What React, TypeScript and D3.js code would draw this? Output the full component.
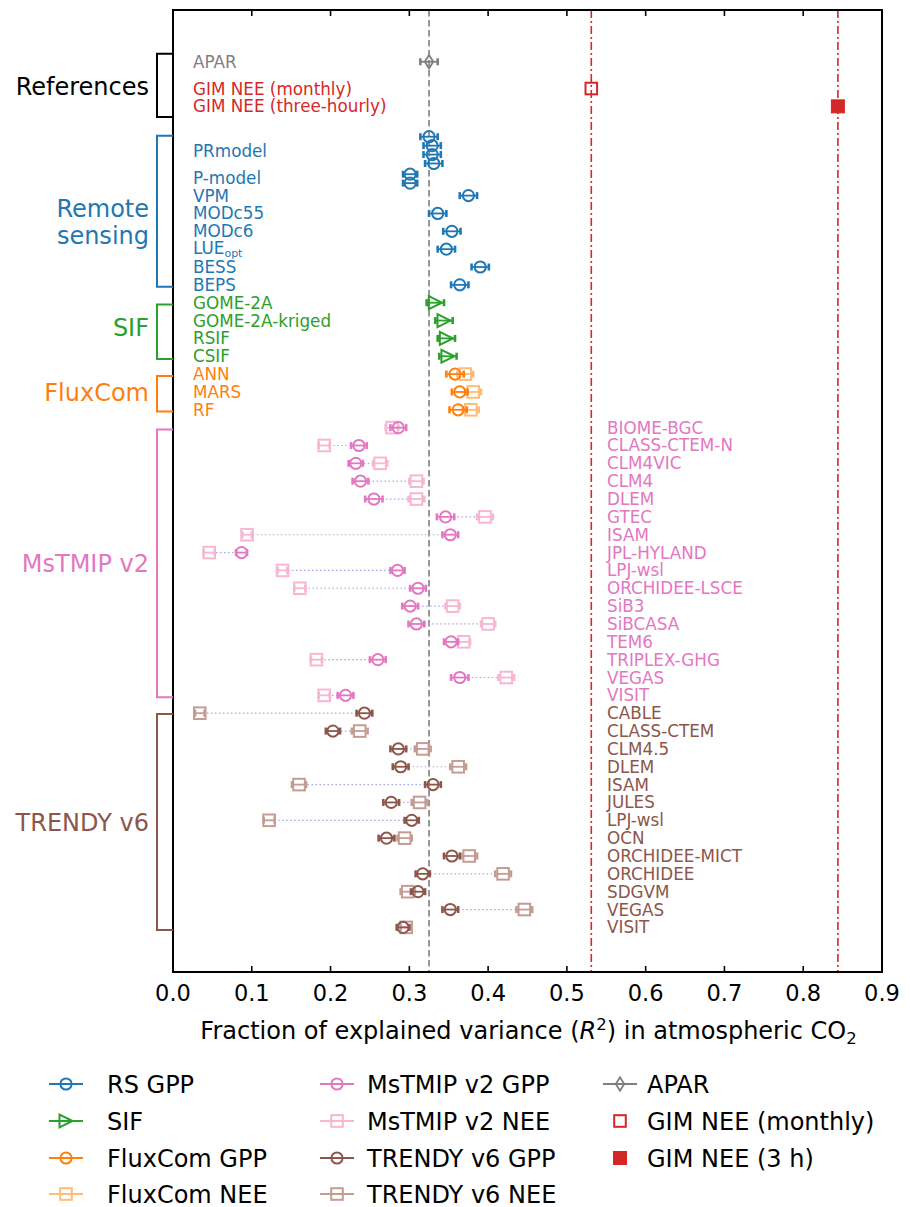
import React from 'react';
import * as d3 from 'd3';

const FONT = 'DejaVu Sans, Verdana, sans-serif';

// colours
const C_RS = '#1f77b4';
const C_SIF = '#2ca02c';
const C_FLUX = '#ff7f0e';
const C_FLUX_NEE = '#ffbb78';
const C_MS = '#e377c2';
const C_MS_NEE = '#f7b6d2';
const C_TR = '#8c564b';
const C_TR_NEE = '#c49c94';
const C_GRAY = '#7f7f7f';
const C_RED = '#d62728';
const C_LINK = '#a8a8e4';

// x axis
const xTicks = [0, 0.1, 0.2, 0.3, 0.4, 0.5, 0.6, 0.7, 0.8, 0.9];

// references
const refLabels = ['APAR', 'GIM NEE (monthly)', 'GIM NEE (three-hourly)'];
const refColors = [C_GRAY, C_RED, C_RED];
const refRows = [0, 1.5, 2.5];
const aparValue = 0.325;
const aparErr = 0.011;
const gimMonthly = 0.531;
const gimThreeHourly = 0.844;

// remote sensing GPP
const rsLabels = ['PRmodel', 'P-model', 'VPM', 'MODc55', 'MODc6', 'LUE_opt', 'BESS', 'BEPS'];
const rsLabelRows = [5, 6.5, 7.5, 8.5, 9.5, 10.5, 11.5, 12.5];
const rsRows = [4.2, 4.7, 5.2, 5.7, 6.3, 6.8, 7.5, 8.5, 9.5, 10.5, 11.5, 12.5];
const rsGpp = [0.325, 0.329, 0.329, 0.331, 0.301, 0.301, 0.375, 0.336, 0.354, 0.347, 0.390, 0.364];
const rsErr = [0.011, 0.011, 0.011, 0.011, 0.009, 0.009, 0.011, 0.011, 0.011, 0.011, 0.011, 0.011];

// SIF
const sifLabels = ['GOME-2A', 'GOME-2A-kriged', 'RSIF', 'CSIF'];
const sifRows = [13.5, 14.5, 15.5, 16.5];
const sifValues = [0.333, 0.344, 0.347, 0.349];
const sifErr = [0.011, 0.011, 0.011, 0.011];

// FluxCom
const fluxLabels = ['ANN', 'MARS', 'RF'];
const fluxRows = [17.5, 18.5, 19.5];
const fluxGpp = [0.358, 0.364, 0.362];
const fluxGppErr = [0.011, 0.01, 0.011];
const fluxNee = [0.371, 0.381, 0.378];
const fluxNeeErr = [0.01, 0.01, 0.01];

// MsTMIP v2
const msLabels = ['BIOME-BGC', 'CLASS-CTEM-N', 'CLM4VIC', 'CLM4', 'DLEM', 'GTEC', 'ISAM', 'JPL-HYLAND',
  'LPJ-wsl', 'ORCHIDEE-LSCE', 'SiB3', 'SiBCASA', 'TEM6', 'TRIPLEX-GHG', 'VEGAS', 'VISIT'];
const msGpp = [0.286, 0.236, 0.232, 0.238, 0.255, 0.346, 0.352, 0.087, 0.285, 0.311, 0.301, 0.309, 0.353, 0.260, 0.364, 0.219];
const msGppErr = [0.01, 0.01, 0.009, 0.01, 0.011, 0.011, 0.01, 0.007, 0.009, 0.01, 0.01, 0.01, 0.009, 0.01, 0.011, 0.01];
const msNee = [0.278, 0.192, 0.263, 0.309, 0.309, 0.396, 0.094, 0.046, 0.139, 0.161, 0.355, 0.400, 0.369, 0.182, 0.423, 0.192];
const msNeeErr = [0.008, 0.007, 0.009, 0.009, 0.01, 0.01, 0.006, 0.007, 0.006, 0.007, 0.009, 0.009, 0.008, 0.007, 0.01, 0.007];
const msStart = 20.5;

// TRENDY v6
const trLabels = ['CABLE', 'CLASS-CTEM', 'CLM4.5', 'DLEM', 'ISAM', 'JULES', 'LPJ-wsl', 'OCN',
  'ORCHIDEE-MICT', 'ORCHIDEE', 'SDGVM', 'VEGAS', 'VISIT'];
const trGpp = [0.243, 0.203, 0.286, 0.289, 0.330, 0.277, 0.303, 0.271, 0.354, 0.317, 0.311, 0.352, 0.292];
const trGppErr = [0.01, 0.009, 0.01, 0.01, 0.01, 0.01, 0.009, 0.01, 0.01, 0.009, 0.009, 0.01, 0.008];
const trNee = [0.034, 0.237, 0.317, 0.362, 0.160, 0.313, 0.122, 0.294, 0.376, 0.419, 0.298, 0.446, 0.296];
const trNeeErr = [0.006, 0.01, 0.01, 0.01, 0.009, 0.01, 0.007, 0.009, 0.01, 0.01, 0.009, 0.01, 0.007];
const trStart = 36.5;

// group brackets on the left
const groupNames = [['References'], ['Remote', 'sensing'], ['SIF'], ['FluxCom'], ['MsTMIP v2'], ['TRENDY v6']];
const groupColors = ['#000000', C_RS, C_SIF, C_FLUX, C_MS, C_TR];
const bracketStart = [-0.45, 4.15, 13.6, 17.6, 20.6, 36.55];
const bracketEnd = [3.1, 12.6, 16.65, 19.6, 35.6, 48.65];
const groupLabelRows = [1.4, 9.0, 14.9, 18.55, 28.1, 42.6];

// legend
const legendLabels = [
  ['RS GPP', 'SIF', 'FluxCom GPP', 'FluxCom NEE'],
  ['MsTMIP v2 GPP', 'MsTMIP v2 NEE', 'TRENDY v6 GPP', 'TRENDY v6 NEE'],
  ['APAR', 'GIM NEE (monthly)', 'GIM NEE (3 h)'],
];
const legendKinds = [
  ['circle', 'triangle', 'circle', 'square'],
  ['circle', 'square', 'circle', 'square'],
  ['diamond', 'square', 'filled'],
];
const legendColors = [
  [C_RS, C_SIF, C_FLUX, C_FLUX_NEE],
  [C_MS, C_MS_NEE, C_TR, C_TR_NEE],
  [C_GRAY, C_RED, C_RED],
];

const W = 910;
const H = 1207;
const left = 173;
const right = 882;
const top = 10;
const bottom = 972;

const x = d3.scaleLinear().domain([0, 0.9]).range([left, right]);
const y = d3.scaleLinear().domain([-2.9, 51]).range([top, bottom]);

function Marker({ kind, cx, cy, color }: { kind: string; cx: number; cy: number; color: string }) {
  const sw = 2;
  if (kind === 'circle') return <circle cx={cx} cy={cy} r={5.6} fill="none" stroke={color} strokeWidth={sw} />;
  if (kind === 'square') return <rect x={cx - 5.8} y={cy - 5.8} width={11.6} height={11.6} fill="none" stroke={color} strokeWidth={sw} />;
  if (kind === 'filled') return <rect x={cx - 6.5} y={cy - 6.5} width={13} height={13} fill={color} stroke={color} strokeWidth={1} />;
  if (kind === 'triangle') {
    const p = `M${cx + 6.5},${cy} L${cx - 6.5},${cy - 6.5} L${cx - 6.5},${cy + 6.5} Z`;
    return <path d={p} fill="none" stroke={color} strokeWidth={sw} strokeLinejoin="miter" />;
  }
  if (kind === 'diamond') {
    const p = `M${cx},${cy - 6.8} L${cx + 4.2},${cy} L${cx},${cy + 6.8} L${cx - 4.2},${cy} Z`;
    return <path d={p} fill="none" stroke={color} strokeWidth={1.8} />;
  }
  return null;
}

function ErrPoint({ v, e, row, kind, color }: { v: number; e: number; row: number; kind: string; color: string }) {
  const cy = y(row);
  const x0 = x(v - e);
  const x1 = x(v + e);
  return (
    <g>
      <line x1={x0} x2={x1} y1={cy} y2={cy} stroke={color} strokeWidth={1.8} />
      <line x1={x0} x2={x0} y1={cy - 3.5} y2={cy + 3.5} stroke={color} strokeWidth={2.6} />
      <line x1={x1} x2={x1} y1={cy - 3.5} y2={cy + 3.5} stroke={color} strokeWidth={2.6} />
      <Marker kind={kind} cx={x(v)} cy={cy} color={color} />
    </g>
  );
}

function RowLabel({ text, row, color, tx }: { text: string; row: number; color: string; tx: number }) {
  const cy = y(row);
  if (text.endsWith('_opt')) {
    return (
      <text x={tx} y={cy + 5} fontSize={16.8} fill={color} fontFamily={FONT}>
        {text.replace('_opt', '')}
        <tspan fontSize={11} dy={3}>opt</tspan>
      </text>
    );
  }
  return <text x={tx} y={cy + 6} fontSize={16.8} fill={color} fontFamily={FONT}>{text}</text>;
}

export default function App() {
  const upperLabelX = 193;
  const lowerLabelX = 607;
  const legendCols = [66, 337, 620];
  const legendText = [107, 367, 647];
  const legendRows = [1084, 1121, 1158, 1194];

  return (
    <svg width={W} height={H} style={{ position: 'absolute', left: 0, top: 0, background: '#fff' }}
      fontFamily={FONT}>
      <rect width={W} height={H} fill="#fff" />

      {/* reference lines */}
      <line x1={x(aparValue)} x2={x(aparValue)} y1={top} y2={bottom} stroke={C_GRAY} strokeWidth={1.6} strokeDasharray="6.5,3.5" />
      <line x1={x(gimMonthly)} x2={x(gimMonthly)} y1={top} y2={bottom} stroke={C_RED} strokeWidth={1.6} strokeDasharray="8,3,2,3" />
      <line x1={x(gimThreeHourly)} x2={x(gimThreeHourly)} y1={top} y2={bottom} stroke={C_RED} strokeWidth={1.6} strokeDasharray="8,3,2,3" />

      {/* dotted links between GPP and NEE */}
      {msLabels.map((_, i) => (
        <line key={'ml' + i} x1={x(msGpp[i])} x2={x(msNee[i])} y1={y(msStart + i)} y2={y(msStart + i)}
          stroke={C_LINK} strokeWidth={1.2} strokeDasharray="1.5,2.5" />
      ))}
      {trLabels.map((_, i) => (
        <line key={'tl' + i} x1={x(trGpp[i])} x2={x(trNee[i])} y1={y(trStart + i)} y2={y(trStart + i)}
          stroke={C_LINK} strokeWidth={1.2} strokeDasharray="1.5,2.5" />
      ))}

      {/* references */}
      <ErrPoint v={aparValue} e={aparErr} row={refRows[0]} kind="diamond" color={C_GRAY} />
      <Marker kind="square" cx={x(gimMonthly)} cy={y(refRows[1])} color={C_RED} />
      <Marker kind="filled" cx={x(gimThreeHourly)} cy={y(refRows[2])} color={C_RED} />
      {refLabels.map((t, i) => (
        <RowLabel key={t} text={t} row={refRows[i]} color={refColors[i]} tx={upperLabelX} />
      ))}

      {/* remote sensing */}
      {rsGpp.map((v, i) => (
        <ErrPoint key={'rs' + i} v={v} e={rsErr[i]} row={rsRows[i]} kind="circle" color={C_RS} />
      ))}
      {rsLabels.map((t, i) => (
        <RowLabel key={t} text={t} row={rsLabelRows[i]} color={C_RS} tx={upperLabelX} />
      ))}

      {/* SIF */}
      {sifValues.map((v, i) => (
        <ErrPoint key={'sif' + i} v={v} e={sifErr[i]} row={sifRows[i]} kind="triangle" color={C_SIF} />
      ))}
      {sifLabels.map((t, i) => (
        <RowLabel key={t} text={t} row={sifRows[i]} color={C_SIF} tx={upperLabelX} />
      ))}

      {/* FluxCom */}
      {fluxNee.map((v, i) => (
        <ErrPoint key={'fn' + i} v={v} e={fluxNeeErr[i]} row={fluxRows[i]} kind="square" color={C_FLUX_NEE} />
      ))}
      {fluxGpp.map((v, i) => (
        <ErrPoint key={'fg' + i} v={v} e={fluxGppErr[i]} row={fluxRows[i]} kind="circle" color={C_FLUX} />
      ))}
      {fluxLabels.map((t, i) => (
        <RowLabel key={t} text={t} row={fluxRows[i]} color={C_FLUX} tx={upperLabelX} />
      ))}

      {/* MsTMIP */}
      {msNee.map((v, i) => (
        <ErrPoint key={'mn' + i} v={v} e={msNeeErr[i]} row={msStart + i} kind="square" color={C_MS_NEE} />
      ))}
      {msGpp.map((v, i) => (
        <ErrPoint key={'mg' + i} v={v} e={msGppErr[i]} row={msStart + i} kind="circle" color={C_MS} />
      ))}
      {msLabels.map((t, i) => (
        <RowLabel key={'m' + t} text={t} row={msStart + i} color={C_MS} tx={lowerLabelX} />
      ))}

      {/* TRENDY */}
      {trNee.map((v, i) => (
        <ErrPoint key={'tn' + i} v={v} e={trNeeErr[i]} row={trStart + i} kind="square" color={C_TR_NEE} />
      ))}
      {trGpp.map((v, i) => (
        <ErrPoint key={'tg' + i} v={v} e={trGppErr[i]} row={trStart + i} kind="circle" color={C_TR} />
      ))}
      {trLabels.map((t, i) => (
        <RowLabel key={'t' + t} text={t} row={trStart + i} color={C_TR} tx={lowerLabelX} />
      ))}

      {/* frame and ticks */}
      <rect x={left} y={top} width={right - left} height={bottom - top} fill="none" stroke="#000" strokeWidth={2} />
      {xTicks.map((t) => (
        <g key={'tk' + t}>
          <line x1={x(t)} x2={x(t)} y1={bottom} y2={bottom - 6} stroke="#000" strokeWidth={1.6} />
          <line x1={x(t)} x2={x(t)} y1={top} y2={top + 6} stroke="#000" strokeWidth={1.6} />
          <text x={x(t)} y={1001} fontSize={22.5} textAnchor="middle" fill="#000">{t.toFixed(1)}</text>
        </g>
      ))}
      <text x={(left + right) / 2 + 1} y={1039} fontSize={24} textAnchor="middle" fill="#000">
        Fraction of explained variance (<tspan fontStyle="italic">R</tspan>
        <tspan fontSize={16.5} dy={-9}>2</tspan>
        <tspan dy={9}>) in atmospheric CO</tspan>
        <tspan fontSize={16.5} dy={5}>2</tspan>
      </text>

      {/* group brackets */}
      {groupNames.map((lines, i) => {
        const y0 = y(bracketStart[i]);
        const y1 = y(bracketEnd[i]);
        const cy = y(groupLabelRows[i]);
        const lh = 27;
        const first = cy - ((lines.length - 1) * lh) / 2;
        return (
          <g key={'grp' + i}>
            <path d={`M${left},${y0} H157 V${y1} H${left}`} fill="none" stroke={groupColors[i]} strokeWidth={2} />
            {lines.map((ln, j) => (
              <text key={ln} x={149} y={first + j * lh + 8.5} fontSize={24} textAnchor="end" fill={groupColors[i]}>{ln}</text>
            ))}
          </g>
        );
      })}

      {/* legend */}
      {legendLabels.map((col, ci) =>
        col.map((lab, ri) => {
          const cx = legendCols[ci];
          const cy = legendRows[ri];
          const kind = legendKinds[ci][ri];
          const color = legendColors[ci][ri];
          const withLine = ci < 2 || ri === 0;
          return (
            <g key={lab}>
              {withLine && <line x1={cx - 17} x2={cx + 17} y1={cy} y2={cy} stroke={color} strokeWidth={1.8} />}
              <Marker kind={kind} cx={cx} cy={cy} color={color} />
              <text x={legendText[ci]} y={cy + 8.5} fontSize={24} fill="#000">{lab}</text>
            </g>
          );
        })
      )}
    </svg>
  );
}
